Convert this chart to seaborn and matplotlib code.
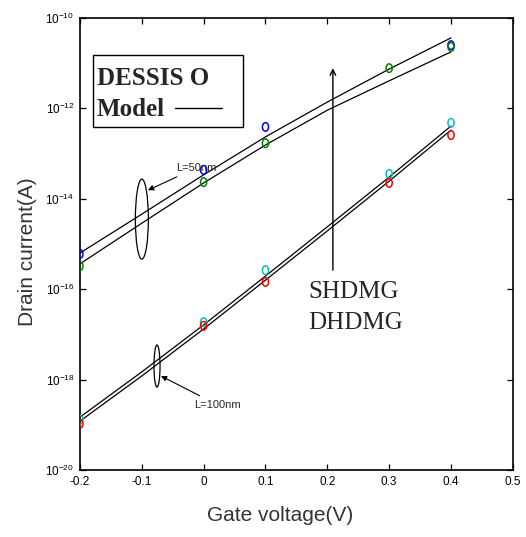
import numpy as np
import pandas as pd
import matplotlib
matplotlib.use("Agg")
import matplotlib.pyplot as plt
from matplotlib.path import Path
from matplotlib.patches import Ellipse, Rectangle
from matplotlib.lines import Line2D
import seaborn as sns

# gate voltage points of the model curves
vg_model = [-0.2, -0.1, 0.0, 0.1, 0.2, 0.3, 0.4]
# log10 of drain current, model curves
log_50_top = [-15.20, -14.34, -13.47, -12.63, -11.86, -11.13, -10.44]
log_50_bot = [-15.44, -14.54, -13.65, -12.81, -12.04, -11.39, -10.75]
log_100_top = [-18.83, -17.83, -16.79, -15.71, -14.62, -13.52, -12.39]
log_100_bot = [-18.92, -17.92, -16.88, -15.80, -14.71, -13.61, -12.48]

# DESSIS points
vg_blue = [-0.2, 0.0, 0.1, 0.4]
log_blue = [-15.22, -13.36, -12.41, -10.60]
vg_green = [-0.2, 0.0, 0.1, 0.3, 0.4]
log_green = [-15.49, -13.63, -12.77, -11.11, -10.64]
vg_cyan = [-0.2, 0.0, 0.1, 0.3, 0.4]
log_cyan = [-18.89, -16.73, -15.58, -13.45, -12.32]
vg_red = [-0.2, 0.0, 0.1, 0.3, 0.4]
log_red = [-18.98, -16.81, -15.84, -13.65, -12.59]

x_ticks = [-0.2, -0.1, 0, 0.1, 0.2, 0.3, 0.4, 0.5]
x_ticklabels = ["-0.2", "-0.1", "0", "0.1", "0.2", "0.3", "0.4", "0.5"]
y_ticks = [1e-20, 1e-18, 1e-16, 1e-14, 1e-12, 1e-10]

sns.set_style("ticks")
plt.rcParams["font.family"] = ["Liberation Sans", "DejaVu Sans"]
plt.rcParams["mathtext.default"] = "regular"

model = pd.DataFrame({
    "vg": vg_model * 4,
    "id": 10.0 ** np.array(log_50_top + log_50_bot + log_100_top + log_100_bot),
    "curve": ["a"] * 7 + ["b"] * 7 + ["c"] * 7 + ["d"] * 7,
})

fig = plt.figure(figsize=(5.26, 5.37), dpi=100)
ax = fig.add_axes([0.152, 0.1248, 0.823, 0.8417])
ax.set_yscale("log")

sns.lineplot(data=model, x="vg", y="id", hue="curve", palette=["k"] * 4,
             legend=False, lw=0.9, ax=ax)

t = np.linspace(0, 2 * np.pi, 40)
oval = Path(np.column_stack([0.72 * np.cos(t), np.sin(t)]))
for vg, lg, col in [(vg_blue, log_blue, "#0000ff"), (vg_green, log_green, "#008000"),
                    (vg_cyan, log_cyan, "#00c0c0"), (vg_red, log_red, "#ff0000")]:
    sns.scatterplot(x=vg, y=10.0 ** np.array(lg), marker=oval, s=38,
                    facecolor="none", edgecolor=col, linewidth=1.1, ax=ax, zorder=3)

ax.set_xlim(-0.2, 0.5)
ax.set_ylim(1e-20, 1e-10)
ax.set_xticks(x_ticks)
ax.set_xticklabels(x_ticklabels)
ax.set_yticks(y_ticks)
ax.minorticks_off()
ax.tick_params(direction="in", top=True, right=True, length=4, width=0.9,
               labelsize=8.5, pad=4, colors="k")
for s in ax.spines.values():
    s.set_linewidth(1.2)
    s.set_color("k")

ax.set_xlabel("Gate voltage(V)", fontsize=15, color="#333333")
ax.set_ylabel("Drain current(A)", fontsize=15, color="#333333")
ax.xaxis.set_label_coords(0.462, -0.080)
ax.yaxis.set_label_coords(-0.099, 0.482)

# legend box
ax.add_patch(Rectangle((0.030, 0.759), 0.346, 0.159, transform=ax.transAxes,
                       fill=False, lw=1.0, ec="k"))
ax.text(0.039, 0.852, "DESSIS O", transform=ax.transAxes, family="Liberation Serif",
        weight="bold", fontsize=18, va="baseline")
ax.text(0.039, 0.783, "Model", transform=ax.transAxes, family="Liberation Serif",
        weight="bold", fontsize=18, va="baseline")
ax.add_line(Line2D([0.219, 0.328], [0.801, 0.801], transform=ax.transAxes, color="k", lw=1))

# L=50nm group
ax.add_patch(Ellipse((0.143, 0.555), 0.030, 0.177, transform=ax.transAxes,
                     fill=False, lw=0.9, ec="k"))
ax.annotate("L=50nm", xy=(-0.090, 1.55e-14), xytext=(-0.045, 4.8e-14),
            fontsize=8, va="center", ha="left",
            arrowprops=dict(arrowstyle="-|>", color="k", lw=0.8, shrinkA=1, shrinkB=0))

# L=100nm group
ax.add_patch(Ellipse((0.178, 0.230), 0.014, 0.093, transform=ax.transAxes,
                     fill=False, lw=0.9, ec="k"))
ax.annotate("L=100nm", xy=(-0.069, 1.2e-18), xytext=(-0.016, 2.8e-19),
            fontsize=8, va="center", ha="left",
            arrowprops=dict(arrowstyle="-|>", color="k", lw=0.8, shrinkA=1, shrinkB=0))

# vertical arrow and labels
ax.annotate("", xy=(0.209, 10 ** -11.11), xytext=(0.209, 10 ** -15.58),
            arrowprops=dict(arrowstyle="->", color="k", lw=1.0, shrinkA=0, shrinkB=0))
ax.text(0.1686, 10 ** -16.19, "SHDMG", family="Liberation Serif", fontsize=18, va="baseline")
ax.text(0.1686, 10 ** -16.88, "DHDMG", family="Liberation Serif", fontsize=18, va="baseline")

fig.savefig("out.png", dpi=100)
